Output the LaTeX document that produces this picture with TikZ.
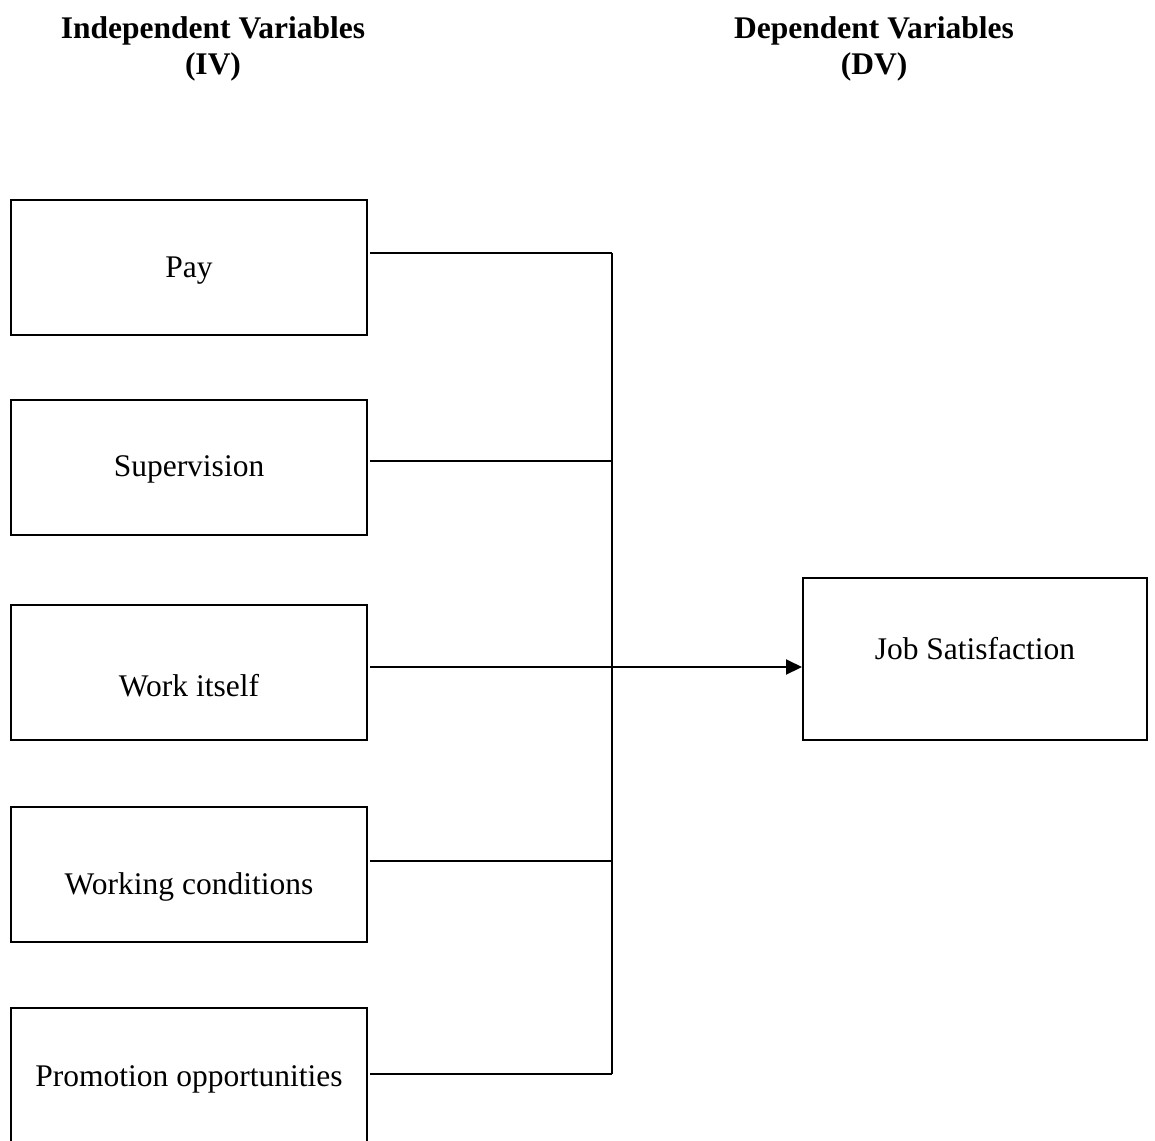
\documentclass[tikz,border=0pt]{standalone}
\usepackage{fontspec}
\setmainfont{Liberation Serif}
\usetikzlibrary{arrows.meta}
\begin{document}
\begin{tikzpicture}[x=1pt,y=-1pt,
  varbox/.style={draw=black,line width=2pt,rectangle,inner sep=0pt,
    minimum width=#1,minimum height=135pt},
  varbox/.default=356pt,
  lbl/.style={font=\fontsize{31.5}{36}\selectfont,inner sep=0pt},
  head/.style={font=\fontsize{31.5}{36}\selectfont\bfseries,inner sep=0pt,align=center},
  wire/.style={line width=2pt}]
\useasboundingbox (0,0) rectangle (1155,1140);
\clip (0,0) rectangle (1155,1140);

% column headings
\node[head] (ivhead) at (213,49) {Independent Variables\\(IV)};
\node[head] (dvhead) at (874,49) {Dependent Variables\\(DV)};

% independent variable boxes
\node[varbox] (pay)  at (189,267.5) {};
\node[varbox] (sup)  at (189,467.5) {};
\node[varbox] (work) at (189,672) {};
\node[varbox] (cond) at (189,874) {};
\node[varbox,minimum height=180pt] (promo) at (189,1098) {};

\node[lbl] (paytxt)  at (189,271) {Pay};
\node[lbl] (suptxt)  at (189,469) {Supervision};
\node[lbl] (worktxt) at (189,686) {Work itself};
\node[lbl] (condtxt) at (189,887) {Working conditions};
\node[lbl] (promotxt) at (189,1079) {Promotion opportunities};

% dependent variable box
\node[varbox=344pt,minimum height=162pt] (job) at (975,659) {};
\node[lbl] (jobtxt) at (975,649) {Job Satisfaction};

% collecting bus
\coordinate (bustop) at (612,253);
\coordinate (busbot) at (612,1074);
\draw[wire] (bustop) -- (busbot);

\draw[wire] ([xshift=2pt]pay.east |- bustop) -- (bustop);
\draw[wire] ([xshift=2pt]sup.east |- 0,461) -- (bustop |- 0,461);
\draw[wire] ([xshift=2pt]cond.east |- 0,861) -- (bustop |- 0,861);
\draw[wire] ([xshift=2pt]promo.east |- busbot) -- (busbot);
\draw[wire,-{Triangle[length=16pt,width=15pt]}]
  ([xshift=2pt]work.east |- 0,667) -- (job.west |- 0,667);
\end{tikzpicture}
\end{document}
